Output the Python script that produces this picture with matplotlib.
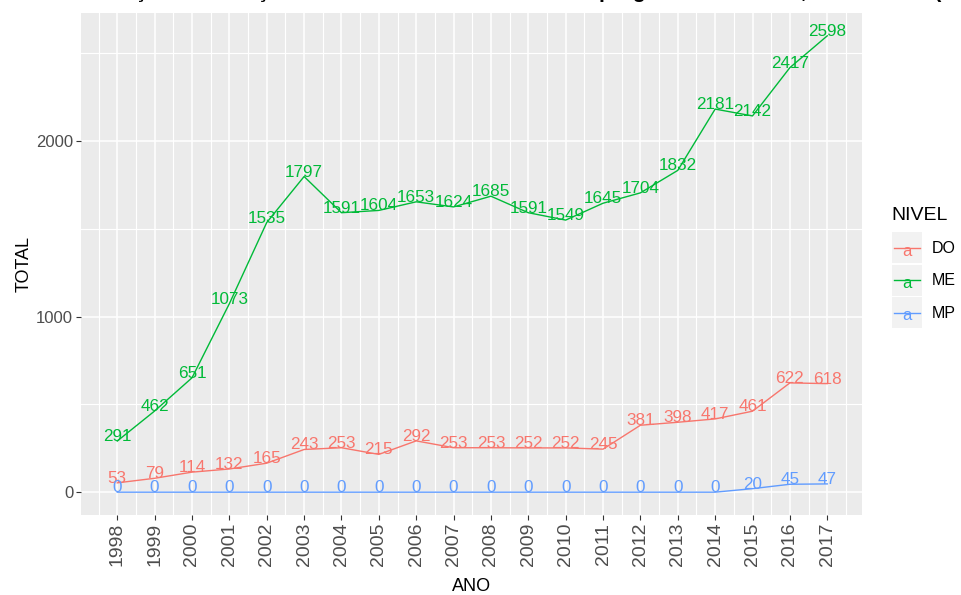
import numpy as np
import matplotlib
matplotlib.use("Agg")
import matplotlib.pyplot as plt
from matplotlib.patches import Rectangle
from matplotlib.lines import Line2D

plt.rcParams['font.family'] = ['Liberation Sans', 'DejaVu Sans']

W, H = 962, 595

years = list(range(1998, 2018))
niveis = ["DO", "ME", "MP"]
total_do = [53, 79, 114, 132, 165, 243, 253, 215, 292, 253,
            253, 252, 252, 245, 381, 398, 417, 461, 622, 618]
total_me = [291, 462, 651, 1073, 1535, 1797, 1591, 1604, 1653, 1624,
            1685, 1591, 1549, 1645, 1704, 1832, 2181, 2142, 2417, 2598]
total_mp = [0, 0, 0, 0, 0, 0, 0, 0, 0, 0,
            0, 0, 0, 0, 0, 0, 0, 20, 45, 47]
cores = {"DO": "#F8766D", "ME": "#00BA38", "MP": "#619CFF"}
series = {"DO": total_do, "ME": total_me, "MP": total_mp}

titulo = "Evolução da titulação de mestrado e doutorado nos programas da UFRN, 1998 a 2017 (total)"


def px(x, y):
    # pixel coords (from top-left) -> figure fraction
    return x / W, 1 - y / H


fig = plt.figure(figsize=(W / 100, H / 100), dpi=100)
ax = fig.add_axes([81 / W, 1 - 515 / H, (862 - 81) / W, (515 - 13) / H])
ax.set_facecolor("#EBEBEB")
for s in ax.spines.values():
    s.set_visible(False)

ax.set_xlim(1997.03, 2017.93)
ax.set_ylim(-130, 2728)
ax.set_xticks(years)
ax.set_xticklabels([str(y) for y in years], rotation=90, fontsize=14, color="#4D4D4D")
ax.set_xticks(np.arange(1997.5, 2018, 1.0), minor=True)
ax.set_yticks([0, 1000, 2000])
ax.set_yticklabels(["0", "1000", "2000"], fontsize=12, color="#4D4D4D")
ax.set_yticks([500, 1500, 2500], minor=True)
ax.tick_params(which="major", length=3.6, width=0.8, color="#333333", pad=2)
ax.tick_params(which="minor", length=0)
ax.grid(which="major", color="white", lw=1.1)
ax.grid(which="minor", color="white", lw=0.8)
ax.set_axisbelow(True)

for n in niveis:
    vals = series[n]
    ax.plot(years, vals, color=cores[n], lw=1.0)
    for x, v in zip(years, vals):
        ax.text(x, v, str(v), ha="center", va="baseline", color=cores[n], fontsize=12.3)

ax.set_xlabel("ANO", fontsize=13, labelpad=8.5)
ax.set_ylabel("TOTAL", fontsize=13, labelpad=2.5)

# title, mostly cut off at the top of the image
fig.text(78 / W, 1 + 2 / H, titulo, ha="left", va="baseline", fontsize=15,
         fontweight="bold")

# legend
fig.text(*px(891, 215), "NIVEL", ha="left", va="center", fontsize=14)
for i, n in enumerate(niveis):
    top = 232 + i * 32.5
    x0, y0 = px(892, top + 31)
    fig.add_artist(Rectangle((x0, y0), 30 / W, 31 / H, transform=fig.transFigure,
                             facecolor="#F2F2F2", edgecolor="none"))
    lx0, ly = px(894, top + 15.5)
    lx1, _ = px(920, top + 15.5)
    fig.add_artist(Line2D([lx0, lx1], [ly, ly], transform=fig.transFigure,
                          color=cores[n], lw=1.0))
    fig.text(*px(907, top + 19), "a", ha="center", va="center", fontsize=12,
             color=cores[n])
    fig.text(*px(932, top + 16), n, ha="left", va="center", fontsize=11.5)

fig.savefig("out.png", dpi=100)
